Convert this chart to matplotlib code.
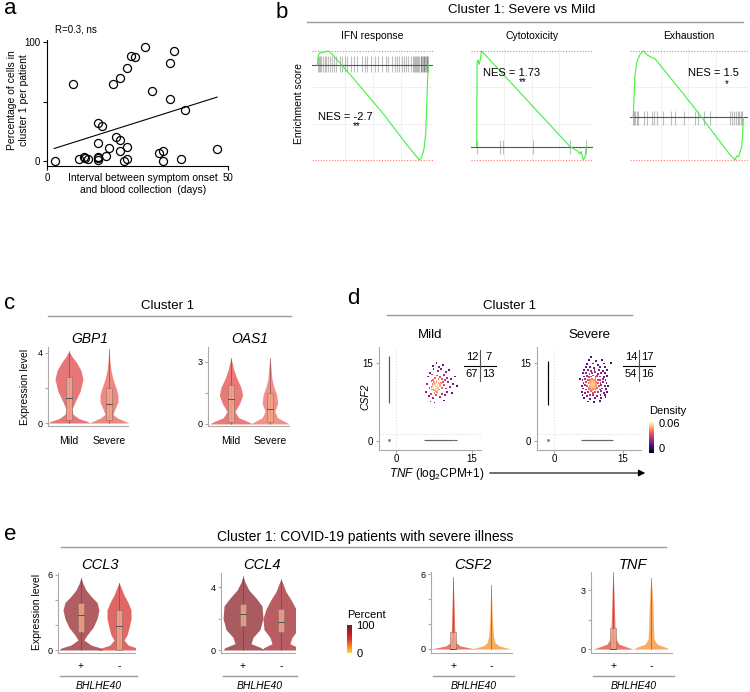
import matplotlib
matplotlib.use('Agg')
import matplotlib.pyplot as plt
import numpy as np
from matplotlib.lines import Line2D
from matplotlib.patches import Rectangle, FancyArrowPatch
from matplotlib.colors import LinearSegmentedColormap, Normalize
import matplotlib.cm as cm

plt.rcParams['font.family'] = ['Liberation Sans', 'DejaVu Sans']
plt.rcParams['mathtext.fontset'] = 'custom'
plt.rcParams['mathtext.rm'] = 'Liberation Sans'
plt.rcParams['mathtext.it'] = 'Liberation Sans:italic'

W, H = 750, 692

# ---- data ----
# a: interval (days) vs percentage of cells in cluster 1
a_days = [2.1, 7.1, 8.9, 10.1, 10.6, 11.2, 14.1, 15.1, 14.0, 14.1, 14.1, 14.0, 16.2, 17.1, 18.1, 19.1,
          20.1, 20.1, 20.1, 21.2, 22.1, 22.1, 22.1, 23.1, 24.2, 27.1, 29.1, 30.9, 32.1, 32.0, 34.0,
          34.1, 35.0, 38.0, 37.1, 47.0]
a_pct = [0, 65, 1.4, 3.6, 2.8, 2, 32, 29, 15, 2.2, 0.8, 3, 4.2, 11, 65, 20,
         17.6, 8.4, 70, 0, 1.4, 12, 78, 88, 87, 95.5, 58.7, 7, 8, 0, 82,
         52, 92.5, 43, 2, 10]
a_fit = (0.96, 8.6)   # slope, intercept of regression line
a_fit_days = [2, 47]

# b: GSEA running enrichment scores (rank %, ES)
ifn_rank = [0, 0.9, 2.4, 4.8, 6.9, 9.9, 12.0, 29.4, 59.5, 80.5, 91.9, 94.0, 96.1, 97.6, 98.5, 99.4, 100]
ifn_es = [0, 0.074, 0.094, 0.092, 0.101, 0.106, 0.094, -0.067, -0.359, -0.586, -0.700, -0.680, -0.618,
          -0.507, -0.309, -0.087, 0]
ifn_hits = [0.5, 1.5, 2.5, 3.5, 5, 6.5, 8, 9.5, 11, 13, 15, 17, 20, 22, 25, 27, 30, 33, 36, 40, 43, 45,
            48, 52, 55, 58, 62, 64, 67, 70, 72, 74, 76, 78, 80, 82, 84, 86, 87, 88, 89, 90, 91, 92, 93,
            93.5, 94, 95, 96, 96.5, 97, 98, 98.5, 99, 99.5]
cyt_rank = [0, 0.3, 1.2, 2.1, 3.0, 4.5, 84.8, 92.4, 93.9, 94.8, 97.0, 98.5, 99.4, 100]
cyt_es = [0, 0.658, 0.679, 0.645, 0.671, 0.75, 0, -0.039, -0.058, -0.039, -0.105, -0.079, -0.013, 0]
cyt_hits = [0, 21, 24, 51, 85, 99.5]
exh_rank = [0, 0.6, 1.5, 3.0, 6.1, 9.1, 12.1, 15.2, 19.7, 22.7, 54.5, 87.9, 90.3, 92.4, 93.9, 95.8,
            97.0, 98.5, 99.4, 100]
exh_es = [0, 0.161, 0.373, 0.494, 0.570, 0.600, 0.570, 0.548, 0.530, 0.494, 0.100, -0.339, -0.361,
          -0.385, -0.348, -0.355, -0.309, -0.264, -0.142, 0]
exh_hits = [0, 0.9, 1.8, 3, 4.5, 9.7, 12.7, 16.7, 18.8, 21.8, 27.3, 33.9, 37.9, 46.1, 56.1, 59.1,
            64.2, 69.7, 87.9, 89.7, 91.5, 93.3, 94.8, 96.4, 97.6, 98.8]
nes = ['NES = -2.7', 'NES = 1.73', 'NES = 1.5']
nes_sig = ['**', '**', '*']

# c: violin profiles (expression level, relative half-width) + box (q1, median, q3)
c_levels = {
    'GBP1': [[0, 0.1, 0.25, 0.5, 0.8, 1.2, 1.8, 2.5, 3.0, 3.5, 3.8, 4.1],
             [0, 0.1, 0.3, 0.5, 0.8, 1.2, 1.6, 2.0, 2.5, 3.0, 3.5, 4.2]],
    'OAS1': [[0, 0.1, 0.3, 0.6, 1.0, 1.4, 1.8, 2.2, 2.6, 3.0, 3.2],
             [0, 0.1, 0.3, 0.6, 1.0, 1.4, 1.8, 2.2, 2.8, 3.2]],
}
c_widths = {
    'GBP1': [[21, 18, 10, 4, 3, 6, 11, 14, 12, 7, 3, 0],
             [20, 16, 8, 4, 6, 9, 9, 7, 4, 2, 1, 0]],
    'OAS1': [[22, 18, 8, 4, 9, 12, 10, 6, 3, 1, 0],
             [20, 16, 8, 5, 8, 7, 4, 2, 1, 0]],
}
c_boxes = {'GBP1': [(0.2, 1.4, 2.6), (0.2, 1.1, 2.0)],
           'OAS1': [(0.1, 1.2, 1.9), (0.1, 0.7, 1.5)]}
c_groups = ['Mild', 'Severe']

# d: TNF vs CSF2 per cell
mild_tnf = [6.0, 6.2, 6.3, 6.5, 6.6, 6.7, 6.9, 7.0, 7.1, 7.2, 7.3, 7.4, 7.5, 7.6, 7.7, 7.8, 7.9, 8.0, 8.1,
            8.1, 8.2, 8.3, 8.4, 8.5, 8.6, 8.6, 8.7, 8.8, 8.9, 9.0, 9.0, 9.1, 9.2, 9.3, 9.4, 9.5, 9.6, 9.7,
            9.8, 9.9, 10.0, 10.1, 10.3, 10.4, 10.6, 10.8, 11.0, 11.3, 11.6, 7.3, 8.0, 8.5, 6.8, 7.6, 9.5,
            12.0, 7.4, 7.8, 7.1, 7.6, 8.3,
            7.4, 7.7, 8.0, 7.5, 8.2, 7.9, 7.2, 8.4, 7.6, 8.1, 7.8, 7.3, 8.6, 7.0]
mild_csf2 = [9.5, 11.0, 12.4, 8.6, 10.2, 13.1, 9.1, 11.6, 12.8, 10.5, 8.2, 13.8, 9.8, 11.2, 12.1, 10.0,
             8.8, 11.5, 12.6, 9.4, 10.8, 13.4, 11.9, 9.9, 10.6, 12.3, 8.5, 11.1, 13.9, 10.2, 12.0, 9.1,
             11.4, 14.6, 10.7, 12.7, 8.9, 11.8, 13.2, 10.1, 12.2, 9.5, 11.3, 13.6, 10.4, 12.0, 9.2, 11.0,
             12.4, 14.5, 15.0, 14.3, 7.6, 7.4, 7.8, 10.5, 11.0, 10.6, 9.9, 9.3, 10.2,
             10.3, 10.8, 10.1, 11.4, 9.7, 11.1, 10.9, 11.2, 9.9, 10.5, 9.6, 11.8, 10.9, 10.4]
sev_tnf = [7.4, 8.6, 9.9, 6.6, 7.8, 8.9, 10.3, 11.2, 6.2, 7.1, 7.9, 8.5, 9.4, 10.1, 11.0,
           6.0, 6.8, 7.4, 8.0, 8.4, 8.9, 9.5, 10.2, 10.9, 11.6,
           6.3, 6.9, 7.5, 7.9, 8.2, 8.6, 9.0, 9.4, 9.9, 10.5, 11.3,
           6.1, 6.7, 7.2, 7.7, 8.1, 8.4, 8.8, 9.2, 9.7, 10.3, 11.0, 11.8,
           6.4, 7.0, 7.5, 7.9, 8.3, 8.7, 9.1, 9.6, 10.1, 10.7, 11.4,
           6.2, 6.8, 7.3, 7.8, 8.2, 8.6, 9.0, 9.5, 10.0, 10.6, 11.2,
           6.5, 7.1, 7.6, 8.0, 8.5, 9.0, 9.4, 10.0, 10.8, 11.5,
           6.3, 7.0, 7.7, 8.3, 8.9, 9.6, 10.3, 11.1,
           6.6, 7.4, 8.1, 8.8, 9.7, 10.6, 11.6,
           6.9, 7.8, 8.7, 9.9, 11.0, 7.2, 8.4, 9.6, 10.8, 7.6, 9.1, 10.4, 8.0, 12.3, 5.6,
           8.3, 8.7, 8.0, 8.5, 7.6, 9.1, 8.9, 7.8, 8.4, 8.2,
           8.3, 8.6, 8.1, 8.8, 8.4, 8.0, 8.7, 8.2, 8.9, 8.5, 7.9, 8.3, 8.6, 8.1, 9.0, 7.8, 8.4, 8.7, 8.2, 8.5]
sev_csf2 = [7.6, 7.5, 7.7, 8.3, 8.1, 8.3, 8.2, 8.4, 8.9, 8.7, 8.9, 8.8, 8.7, 8.9, 8.8,
            9.5, 9.3, 9.4, 9.6, 9.3, 9.5, 9.4, 9.6, 9.3, 9.5,
            10.1, 9.9, 10.0, 10.2, 9.9, 10.1, 10.0, 10.2, 9.9, 10.1, 10.0,
            10.6, 10.7, 10.5, 10.6, 10.8, 10.5, 10.7, 10.6, 10.5, 10.7, 10.6, 10.5,
            11.2, 11.3, 11.1, 11.2, 11.4, 11.1, 11.3, 11.2, 11.1, 11.3, 11.2,
            11.8, 11.9, 11.7, 11.8, 12.0, 11.7, 11.9, 11.8, 11.7, 11.9, 11.8,
            12.4, 12.5, 12.3, 12.4, 12.6, 12.3, 12.5, 12.4, 12.3, 12.5,
            13.0, 13.1, 12.9, 13.0, 13.2, 12.9, 13.1, 13.0,
            13.6, 13.7, 13.5, 13.6, 13.7, 13.5, 13.6,
            14.2, 14.3, 14.1, 14.2, 14.3, 14.8, 14.9, 14.7, 14.9, 15.5, 15.4, 15.6, 16.1, 15.0, 12.0,
            10.3, 10.4, 10.9, 11.6, 10.3, 10.9, 11.6, 11.5, 10.0, 11.1,
            10.6, 10.9, 10.2, 10.3, 11.3, 11.0, 11.5, 9.8, 10.8, 10.4, 10.6, 11.8, 9.9, 11.5, 11.2, 10.0,
            10.9, 10.7, 11.1, 11.0]
# CSF2 of TNF-negative cells, TNF of CSF2-negative cells
mild_zero_col = [7.6, 8.1, 8.5, 8.9, 9.2, 9.6, 10.0, 10.3, 10.7, 11.0, 11.4, 11.8, 12.1, 12.5, 12.9,
                 13.2, 13.6, 14.0, 14.4, 14.8, 15.3, 15.9]
sev_zero_col = [7.4, 7.8, 8.2, 8.6, 9.0, 9.4, 9.8, 10.2, 10.6, 11.0, 11.4, 11.8, 12.2, 12.6, 13.0,
                13.4, 13.8, 14.2, 14.6, 15.0]
mild_zero_row = [5.9, 6.3, 6.7, 7.1, 7.5, 7.9, 8.3, 8.7, 9.1, 9.5, 9.9, 10.3, 10.8, 11.6]
sev_zero_row = [6.3, 6.7, 7.1, 7.5, 7.9, 8.3, 8.7, 9.1, 9.5, 9.9, 10.3, 10.7, 11.1, 11.5, 11.9, 12.4]
zero_jitter_x = -1.3
mild_quad = [['12', '7'], ['67', '13']]
sev_quad = [['14', '17'], ['54', '16']]

# e: violins split by BHLHE40 (+ / -)
e_genes = ['CCL3', 'CCL4', 'CSF2', 'TNF']
e_levels = {
    'CCL3': [[0, 0.15, 0.4, 0.8, 1.2, 1.8, 2.5, 3.2, 3.8, 4.3, 4.8, 5.3, 5.8],
             [0, 0.15, 0.4, 0.8, 1.2, 1.8, 2.5, 3.2, 3.8, 4.4, 5.0, 5.4]],
    'CCL4': [[0, 0.15, 0.4, 0.8, 1.3, 2.0, 2.8, 3.3, 3.8, 4.3, 4.7],
             [0, 0.15, 0.4, 0.8, 1.3, 2.0, 2.6, 3.2, 3.7, 4.2, 4.5]],
    'CSF2': [[0, 0.1, 0.25, 0.5, 1.0, 2.0, 3.0, 4.0, 5.0, 5.8],
             [0, 0.1, 0.25, 0.5, 1.0, 2.0, 3.0, 4.0, 5.1]],
    'TNF': [[0, 0.1, 0.25, 0.5, 1.0, 2.0, 3.0, 3.9],
            [0, 0.1, 0.25, 0.5, 1.0, 2.0, 3.0, 3.6]],
}
e_widths = {
    'CCL3': [[22, 20, 10, 3, 6, 12, 16, 18, 16, 10, 5, 2, 0],
             [22, 18, 9, 5, 8, 10, 12, 12, 9, 5, 2, 0]],
    'CCL4': [[20, 18, 8, 10, 17, 20, 19, 13, 6, 2, 0],
             [20, 17, 9, 11, 17, 18, 15, 10, 5, 2, 0]],
    'CSF2': [[22, 16, 7, 3, 2, 1.5, 1.2, 0.8, 0.4, 0],
             [20, 15, 8, 4, 2.5, 1.5, 1, 0.6, 0]],
    'TNF': [[20, 14, 6, 3, 2, 1.4, 0.8, 0],
            [18, 14, 6, 3, 2.5, 2, 1, 0]],
}
e_boxes = {'CCL3': [(1.44, 2.8, 3.76), (0.0, 1.9, 3.2)],
           'CCL4': [(1.52, 2.29, 2.92), (1.14, 1.78, 2.6)],
           'CSF2': [(0.0, 0.0, 1.36), (0.0, 0.0, 0.0)],
           'TNF': [(0.0, 0.0, 1.07), (0.0, 0.0, 0.0)]}
e_percent = {'CCL3': [85, 55], 'CCL4': [92, 80], 'CSF2': [45, 22], 'TNF': [45, 22]}
e_groups = ['+', '-']

# ---- helpers ----
fig = plt.figure(figsize=(7.5, 6.92), dpi=100)


def box(x0, y0, x1, y1):
    return [x0 / W, 1 - y1 / H, (x1 - x0) / W, (y1 - y0) / H]


def txt(x, y, s, **kw):
    kw.setdefault('ha', 'center')
    kw.setdefault('va', 'center')
    fig.text(x / W, 1 - y / H, s, **kw)


def fline(xs, ys, color='#999999', lw=1.0):
    fig.add_artist(Line2D([v / W for v in xs], [1 - v / H for v in ys], color=color, lw=lw))


def grey_axes(ax):
    for s in ['top', 'right']:
        ax.spines[s].set_visible(False)
    for s in ['left', 'bottom']:
        ax.spines[s].set_color('#aaaaaa')
        ax.spines[s].set_linewidth(0.8)
    ax.tick_params(axis='y', length=2, color='#aaaaaa', labelsize=6.5, pad=2)


def violin(ax, pos, levels, widths, scale, color, box_q, alpha=0.9):
    lv = np.array(levels)
    hw = np.array(widths) / scale
    ax.fill_betweenx(lv, pos - hw, pos + hw, color=color, lw=0, alpha=alpha)
    ax.plot([pos, pos], [lv[0], lv[-1]], color='#6b3030', lw=0.5, alpha=0.7)
    q1, med, q3 = box_q
    bw = 3.0 / scale
    if q3 > q1:
        ax.add_patch(Rectangle((pos - bw, q1), 2 * bw, q3 - q1, fc='#f3a98c', ec='#8c6e66', lw=0.5,
                               alpha=0.8, zorder=3))
        ax.plot([pos - bw, pos + bw], [med, med], color='#555555', lw=0.7, zorder=4)


# ---- panel a ----
txt(10, 9, 'a', size=16)
ax = fig.add_axes(box(47, 40, 228, 166))
ax.plot(a_days, a_pct, 'o', mfc='none', mec='black', ms=5.8, mew=0.9)
fx = np.array(a_fit_days)
ax.plot(fx, a_fit[0] * fx + a_fit[1], color='black', lw=0.8)
ax.set_xlim(0, 50)
ax.set_ylim(-4.2, 101.7)
ax.set_xticks([0, 50])
ax.set_yticks([0, 50, 100])
ax.set_yticklabels(['0', '', '100'])
for s in ['top', 'right']:
    ax.spines[s].set_visible(False)
ax.tick_params(labelsize=7, length=3, width=0.8, pad=2)
txt(55, 29, 'R=0.3, ns', ha='left', size=7)
txt(18, 100, 'Percentage of cells in\ncluster 1 per patient', rotation=90, size=7.5, linespacing=1.3)
txt(143, 184, 'Interval between symptom onset\nand blood collection  (days)', size=7.5, linespacing=1.3)

# ---- panel b ----
txt(282, 12, 'b', size=16)
txt(522, 10, 'Cluster 1: Severe vs Mild', size=9.5)
fline([307, 743], [22, 22])
b_axes = [(312, 433, (-4.8, 104.2)), (471, 593, (-5.2, 105.7)), (630, 748, (-3, 104.2))]
b_data = [(ifn_rank, ifn_es, ifn_hits, 0.07, -0.05),
          (cyt_rank, cyt_es, cyt_hits, 0.053, -0.058),
          (exh_rank, exh_es, exh_hits, 0.055, -0.067)]
b_titles = ['IFN response', 'Cytotoxicity', 'Exhaustion']
nes_pos = [(318, 117, 357, 126), (483, 73, 523, 82), (688, 73, 727, 84)]
for i in range(3):
    x0, x1, xl = b_axes[i]
    rk, es, hits, top, bot = b_data[i]
    ax = fig.add_axes(box(x0, 49, x1, 162))
    ymax, ymin = max(es), min(es)
    pad = (ymax - ymin) * 2 / 109
    ax.set_xlim(*xl)
    ax.set_ylim(ymin - pad, ymax + pad)
    for s in ax.spines.values():
        s.set_visible(False)
    ax.set_xticks([25, 50, 75])
    ax.set_yticks(np.linspace(ymin, ymax, 4)[1:3])
    ax.tick_params(length=0, labelbottom=False, labelleft=False)
    ax.grid(True, color='#eeeeee', lw=0.6)
    ax.axhline(ymax, color='#ff7777', ls=(0, (1, 1.5)), lw=0.8)
    ax.axhline(ymin, color='#ff7777', ls=(0, (1, 1.5)), lw=0.8)
    ax.vlines(hits, bot, top, color='black', alpha=0.25, lw=0.8)
    ax.axhline(0, color='#555555', lw=0.8)
    ax.plot(rk, es, color='#44ee44', lw=0.8)
    txt((x0 + x1) / 2, 36, b_titles[i], size=7.5)
    nx, ny, sx, sy = nes_pos[i]
    txt(nx, ny, nes[i], ha='left', size=8)
    txt(sx, sy, nes_sig[i], size=7)
txt(299, 103, 'Enrichment score', rotation=90, size=7.5)

# ---- panel c ----
txt(10, 303, 'c', size=16)
txt(168, 306, 'Cluster 1', size=9.5)
fline([48, 291], [316, 316])
c_axes = {'GBP1': (48, 128, (0.475, 2.475), (-0.17, 4.34), [0, 2, 4], ['0', '', '4'], 90),
          'OAS1': (208, 289, (0.41, 2.49), (-0.1, 3.72), [0, 1.5, 3], ['0', '', '3'], 250)}
c_cols = {'GBP1': ['#e4676a', '#ee7b74'], 'OAS1': ['#e86b68', '#f0857a']}
for g in ['GBP1', 'OAS1']:
    x0, x1, xl, yl, yt, ytl, tx = c_axes[g]
    ax = fig.add_axes(box(x0, 347, x1, 426))
    for k in range(2):
        violin(ax, k + 1, c_levels[g][k], c_widths[g][k], 40, c_cols[g][k], c_boxes[g][k])
    ax.set_xlim(*xl)
    ax.set_ylim(*yl)
    ax.set_yticks(yt)
    ax.set_yticklabels(ytl)
    ax.set_xticks([1, 2])
    ax.set_xticklabels(c_groups)
    grey_axes(ax)
    ax.tick_params(axis='x', length=0, labelsize=7.5, pad=7)
    txt(tx, 339, g, size=10, style='italic')
txt(25, 387, 'Expression level', rotation=90, size=7.5)

# ---- panel d ----
txt(353, 298, 'd', size=16)
txt(510, 306, 'Cluster 1', size=9.5)
fline([387, 632], [315, 315])
dens_cmap = plt.get_cmap('magma')
dens_norm = Normalize(-0.012, 0.062)


def kde(x, y, bx=0.9, by=1.1):
    x = np.asarray(x)
    y = np.asarray(y)
    dx = (x[:, None] - x[None, :]) / bx
    dy = (y[:, None] - y[None, :]) / by
    return (np.exp(-0.5 * (dx ** 2 + dy ** 2)) / (2 * np.pi * bx * by)).mean(axis=1)


d_panels = [('Mild', 379, 481, (-3.36, 16.78), mild_tnf, mild_csf2, mild_zero_col, mild_zero_row,
             mild_quad, 480, '#555555'),
            ('Severe', 537, 641, (-3.7, 18.9), sev_tnf, sev_csf2, sev_zero_col, sev_zero_row,
             sev_quad, 639, 'black')]
for name, x0, x1, xl, tx, ty, zc, zr, quad, qx, zcol in d_panels:
    ax = fig.add_axes(box(x0, 347, x1, 450))
    ax.set_xlim(*xl)
    ax.set_ylim(-1.73, 18.08)
    ax.axvline(0, color='#dddddd', ls=':', lw=0.8)
    ax.axhline(1.35, color='#dddddd', ls=':', lw=0.8)
    ax.plot([zero_jitter_x] * len(zc), zc, ls='none', marker='|', ms=3, mew=0.8, color=zcol)
    ax.plot(zr, [0.2] * len(zr), ls='none', marker='_', ms=3, mew=0.8, color='#666666')
    ax.plot([zero_jitter_x], [0.2], ls='none', marker='s', ms=1, color='#888888')
    d = kde(tx, ty)
    order = np.argsort(d)
    ax.scatter(np.array(tx)[order], np.array(ty)[order], c=d[order], cmap=dens_cmap, norm=dens_norm,
               s=1.8, marker='s', linewidths=0)
    ax.set_xticks([0, 15])
    ax.set_yticks([0, 15])
    grey_axes(ax)
    ax.tick_params(axis='both', labelsize=7, length=2, color='#aaaaaa')
    ax.tick_params(axis='x', pad=1)
    txt((x0 + x1) / 2, 335, name, size=9.5)
    # quadrant table
    txt(qx - 8, 357, quad[0][0], size=8)
    txt(qx + 8, 357, quad[0][1], size=8)
    txt(qx - 8, 374, quad[1][0], size=8)
    txt(qx + 8, 374, quad[1][1], size=8)
    fline([qx - 16, qx + 16], [366, 366], color='black', lw=0.8)
    fline([qx, qx], [350, 381], color='#555555', lw=0.8)
txt(365, 397, 'CSF2', rotation=90, size=7.5, style='italic')
txt(437, 474, r'$\it{TNF}$ (log$_2$CPM+1)', size=8.5)
fig.add_artist(FancyArrowPatch((487 / W, 1 - 473 / H), (648 / W, 1 - 473 / H), transform=fig.transFigure,
                               arrowstyle='-|>', mutation_scale=10, color='black', lw=0.8))
cax = fig.add_axes(box(649, 422, 654, 453))
cb = fig.colorbar(cm.ScalarMappable(norm=dens_norm, cmap=dens_cmap), cax=cax)
cb.outline.set_visible(False)
cb.set_ticks([0, 0.06])
cb.set_ticklabels(['0', '0.06'])
cax.tick_params(length=0, labelsize=8, pad=3)
txt(649, 411, 'Density', ha='left', size=8)

# ---- panel e ----
txt(10, 535, 'e', size=16)
txt(365, 537, 'Cluster 1: COVID-19 patients with severe illness', size=10)
fline([61, 666], [547, 547])
pct_cmap = LinearSegmentedColormap.from_list('pct', ['#ffd040', '#f78320', '#e0302a', '#a82028', '#7a1a1e'])
pct_norm = Normalize(0, 100)
e_axes = {'CCL3': (58, 135, 573, (0.395, 2.42), (-0.24, 6.16), [0, 2, 4, 6], ['0', '', '', '6'], 100),
          'CCL4': (221, 295, 573, (0.42, 2.37), (-0.19, 4.89), [0, 2, 4], ['0', '', '4'], 262),
          'CSF2': (431, 512, 572, (0.42, 2.55), (-0.32, 6.16), [0, 2, 4, 6], ['0', '', '', '6'], 473),
          'TNF': (591, 672, 572, (0.42, 2.55), (-0.2, 3.92), [0, 1.5, 3], ['0', '', '3'], 633)}
for g in e_genes:
    x0, x1, y0, xl, yl, yt, ytl, tx = e_axes[g]
    ax = fig.add_axes(box(x0, y0, x1, 653))
    for k in range(2):
        col = pct_cmap(pct_norm(e_percent[g][k]))
        violin(ax, k + 1, e_levels[g][k], e_widths[g][k], 38, col, e_boxes[g][k], alpha=0.72)
    ax.set_xlim(*xl)
    ax.set_ylim(*yl)
    ax.set_yticks(yt)
    ax.set_yticklabels(ytl)
    ax.set_xticks([1, 2])
    ax.set_xticklabels(e_groups)
    grey_axes(ax)
    ax.tick_params(axis='x', length=0, labelsize=7.5, pad=6)
    txt(tx, 565, g, size=10.5, style='italic')
    fline([x0 + 2, x1 + 2], [676, 676])
    txt((x0 + x1) / 2 + 2, 686, 'BHLHE40', size=7.5, style='italic')
txt(37, 612, 'Expression level', rotation=90, size=7.5)
cax = fig.add_axes(box(347, 625, 352, 653))
cb = fig.colorbar(cm.ScalarMappable(norm=pct_norm, cmap=pct_cmap), cax=cax)
cb.outline.set_visible(False)
cb.set_ticks([0, 100])
cax.tick_params(length=0, labelsize=8, pad=3)
txt(347, 615, 'Percent', ha='left', size=8)

plt.savefig('out.png', dpi=100)
